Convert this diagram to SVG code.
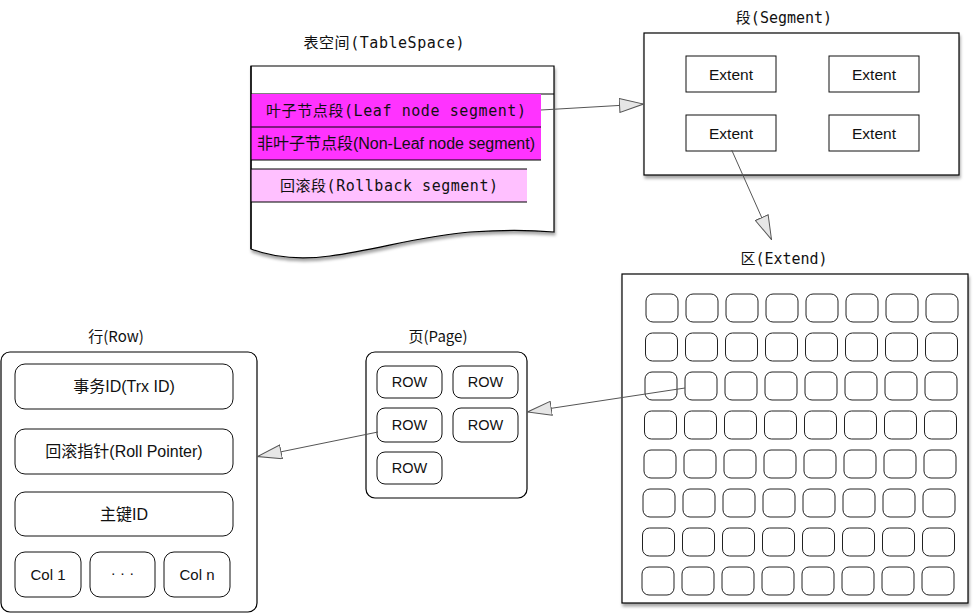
<svg xmlns="http://www.w3.org/2000/svg" xmlns:xlink="http://www.w3.org/1999/xlink" width="974" height="614" viewBox="0 0 974 614">
<style>
.box{fill:#fff;stroke:#000;stroke-width:1.2}
.in{fill:#fff;stroke:#111;stroke-width:1}
.cell{fill:#fff;stroke:#222;stroke-width:1}
.mono{font-family:"DejaVu Sans Mono","Noto Sans CJK SC",monospace;font-size:15px;fill:#111;text-anchor:middle}
.sans{font-family:"Liberation Sans","Noto Sans CJK SC",sans-serif;font-size:15px;fill:#111;text-anchor:middle}
.sans16{font-size:16px}
.ext{font-size:15.5px}
.rowt{font-size:14.5px}
.cjk{font-family:"Noto Sans CJK SC",sans-serif;font-size:15px;fill:#111;text-anchor:middle}
.conn{fill:none;stroke:#555;stroke-width:1}
</style>
<defs>
<filter id="sh" x="-5%" y="-5%" width="115%" height="115%">
<feDropShadow dx="1" dy="3" stdDeviation="1.5" flood-color="#000" flood-opacity="0.35"/>
</filter>
<marker id="tri" viewBox="0 0 25 15" markerWidth="25" markerHeight="15" refX="25" refY="7.5" orient="auto" markerUnits="userSpaceOnUse">
<path d="M0.5,0.5 L24.5,7.5 L0.5,14.5 Z" fill="#e6e6e6" stroke="#555" stroke-width="1"/>
</marker>
<rect id="c" class="cell" width="32" height="28" rx="7"/>
</defs>
<rect width="974" height="614" fill="#fff"/>

<g id="tablespace">
<text class="mono" x="384" y="48" textLength="161">表空间(TableSpace)</text>
<path class="box" filter="url(#sh)" d="M251,66 H554 V232 C530,230 500,230 470,232 C420,236 380,249 330,256 C300,260 275,258 251,249 Z"/>
<line x1="251" y1="94" x2="554" y2="94" stroke="#000" stroke-width="1"/>
<rect x="251" y="94" width="290" height="33" fill="#ff33ff"/>
<rect x="251" y="127" width="290" height="33" fill="#ff33ff"/>
<line x1="251" y1="127" x2="541" y2="127" stroke="#000" stroke-width="1"/>
<line x1="251" y1="160" x2="541" y2="160" stroke="#000" stroke-width="1"/>
<rect x="251" y="169" width="276" height="33" fill="#ffc0ff"/>
<line x1="251" y1="169" x2="527" y2="169" stroke="#000" stroke-width="1"/>
<line x1="251" y1="202" x2="527" y2="202" stroke="#000" stroke-width="1"/>
<line x1="251" y1="66" x2="251" y2="249" stroke="#000" stroke-width="1.2"/>
<text class="mono" x="396" y="116" textLength="260">叶子节点段(Leaf node segment)</text>
<text class="sans sans16" x="396" y="149" textLength="278">非叶子节点段(Non-Leaf node segment)</text>
<text class="mono" x="389" y="191" textLength="218">回滚段(Rollback segment)</text>
</g>

<g id="segment">
<text class="mono" x="784" y="23">段(Segment)</text>
<rect class="box" filter="url(#sh)" x="644" y="33" width="315" height="142"/>
<rect class="in" x="686" y="56" width="90" height="36"/>
<text class="sans ext" x="731" y="80">Extent</text>
<rect class="in" x="829" y="56" width="90" height="36"/>
<text class="sans ext" x="874" y="80">Extent</text>
<rect class="in" x="686" y="115" width="90" height="36"/>
<text class="sans ext" x="731" y="139">Extent</text>
<rect class="in" x="829" y="115" width="90" height="36"/>
<text class="sans ext" x="874" y="139">Extent</text>
</g>

<g id="extend">
<text class="mono" x="784" y="264">区(Extend)</text>
<rect class="box" filter="url(#sh)" x="622" y="274" width="346" height="329"/>
<use href="#c" x="646" y="294"/><use href="#c" x="686" y="294"/><use href="#c" x="726" y="294"/><use href="#c" x="766" y="294"/><use href="#c" x="806" y="294"/><use href="#c" x="846" y="294"/><use href="#c" x="886" y="294"/><use href="#c" x="926" y="294"/>
<use href="#c" x="645.5" y="333"/><use href="#c" x="685.5" y="333"/><use href="#c" x="725.5" y="333"/><use href="#c" x="765.5" y="333"/><use href="#c" x="805.5" y="333"/><use href="#c" x="845.5" y="333"/><use href="#c" x="885.5" y="333"/><use href="#c" x="925.5" y="333"/>
<use href="#c" x="645" y="372"/><use href="#c" x="685" y="372"/><use href="#c" x="725" y="372"/><use href="#c" x="765" y="372"/><use href="#c" x="805" y="372"/><use href="#c" x="845" y="372"/><use href="#c" x="885" y="372"/><use href="#c" x="925" y="372"/>
<use href="#c" x="644.5" y="411"/><use href="#c" x="684.5" y="411"/><use href="#c" x="724.5" y="411"/><use href="#c" x="764.5" y="411"/><use href="#c" x="804.5" y="411"/><use href="#c" x="844.5" y="411"/><use href="#c" x="884.5" y="411"/><use href="#c" x="924.5" y="411"/>
<use href="#c" x="644" y="450"/><use href="#c" x="684" y="450"/><use href="#c" x="724" y="450"/><use href="#c" x="764" y="450"/><use href="#c" x="804" y="450"/><use href="#c" x="844" y="450"/><use href="#c" x="884" y="450"/><use href="#c" x="924" y="450"/>
<use href="#c" x="643" y="489"/><use href="#c" x="683" y="489"/><use href="#c" x="723" y="489"/><use href="#c" x="763" y="489"/><use href="#c" x="803" y="489"/><use href="#c" x="843" y="489"/><use href="#c" x="883" y="489"/><use href="#c" x="923" y="489"/>
<use href="#c" x="642.5" y="528"/><use href="#c" x="682.5" y="528"/><use href="#c" x="722.5" y="528"/><use href="#c" x="762.5" y="528"/><use href="#c" x="802.5" y="528"/><use href="#c" x="842.5" y="528"/><use href="#c" x="882.5" y="528"/><use href="#c" x="922.5" y="528"/>
<use href="#c" x="642" y="567"/><use href="#c" x="682" y="567"/><use href="#c" x="722" y="567"/><use href="#c" x="762" y="567"/><use href="#c" x="802" y="567"/><use href="#c" x="842" y="567"/><use href="#c" x="882" y="567"/><use href="#c" x="922" y="567"/>
</g>

<g id="page">
<text class="cjk" x="438" y="342">页(Page)</text>
<rect class="box" x="366" y="352" width="161" height="146" rx="9"/>
<rect class="in" x="377" y="366" width="65" height="32" rx="8"/>
<text class="sans rowt" x="409.5" y="387">ROW</text>
<rect class="in" x="453" y="366" width="65" height="32" rx="8"/>
<text class="sans rowt" x="485.5" y="387">ROW</text>
<rect class="in" x="377" y="408" width="65" height="34" rx="8"/>
<text class="sans rowt" x="409.5" y="430">ROW</text>
<rect class="in" x="453" y="408" width="65" height="34" rx="8"/>
<text class="sans rowt" x="485.5" y="430">ROW</text>
<rect class="in" x="377" y="452" width="65" height="32" rx="8"/>
<text class="sans rowt" x="409.5" y="473">ROW</text>
</g>

<g id="row">
<text class="cjk" x="116" y="342">行(Row)</text>
<rect class="box" x="1" y="352" width="256" height="260" rx="9"/>
<rect class="in" x="15" y="364" width="218" height="45" rx="10"/>
<text class="sans sans16" x="124" y="392">事务ID(Trx ID)</text>
<rect class="in" x="15" y="429" width="218" height="45" rx="10"/>
<text class="sans sans16" x="124" y="457">回滚指针(Roll Pointer)</text>
<rect class="in" x="15" y="492" width="218" height="44" rx="10"/>
<text class="sans sans16" x="124" y="520">主键ID</text>
<rect class="in" x="15" y="552" width="66" height="45" rx="10"/>
<text class="sans" x="48" y="580">Col 1</text>
<rect class="in" x="90" y="552" width="65" height="45" rx="10"/>
<text class="sans" x="122.5" y="578">· · ·</text>
<rect class="in" x="164" y="552" width="66" height="45" rx="10"/>
<text class="sans" x="197" y="580">Col n</text>
</g>

<g id="connectors">
<path class="conn" marker-end="url(#tri)" d="M541,110 L644,104"/>
<path class="conn" marker-end="url(#tri)" d="M731.7,150 L771.7,240"/>
<path class="conn" marker-end="url(#tri)" d="M685,388 L527,412"/>
<path class="conn" marker-end="url(#tri)" d="M378,432 L257,456.7"/>
</g>
</svg>
